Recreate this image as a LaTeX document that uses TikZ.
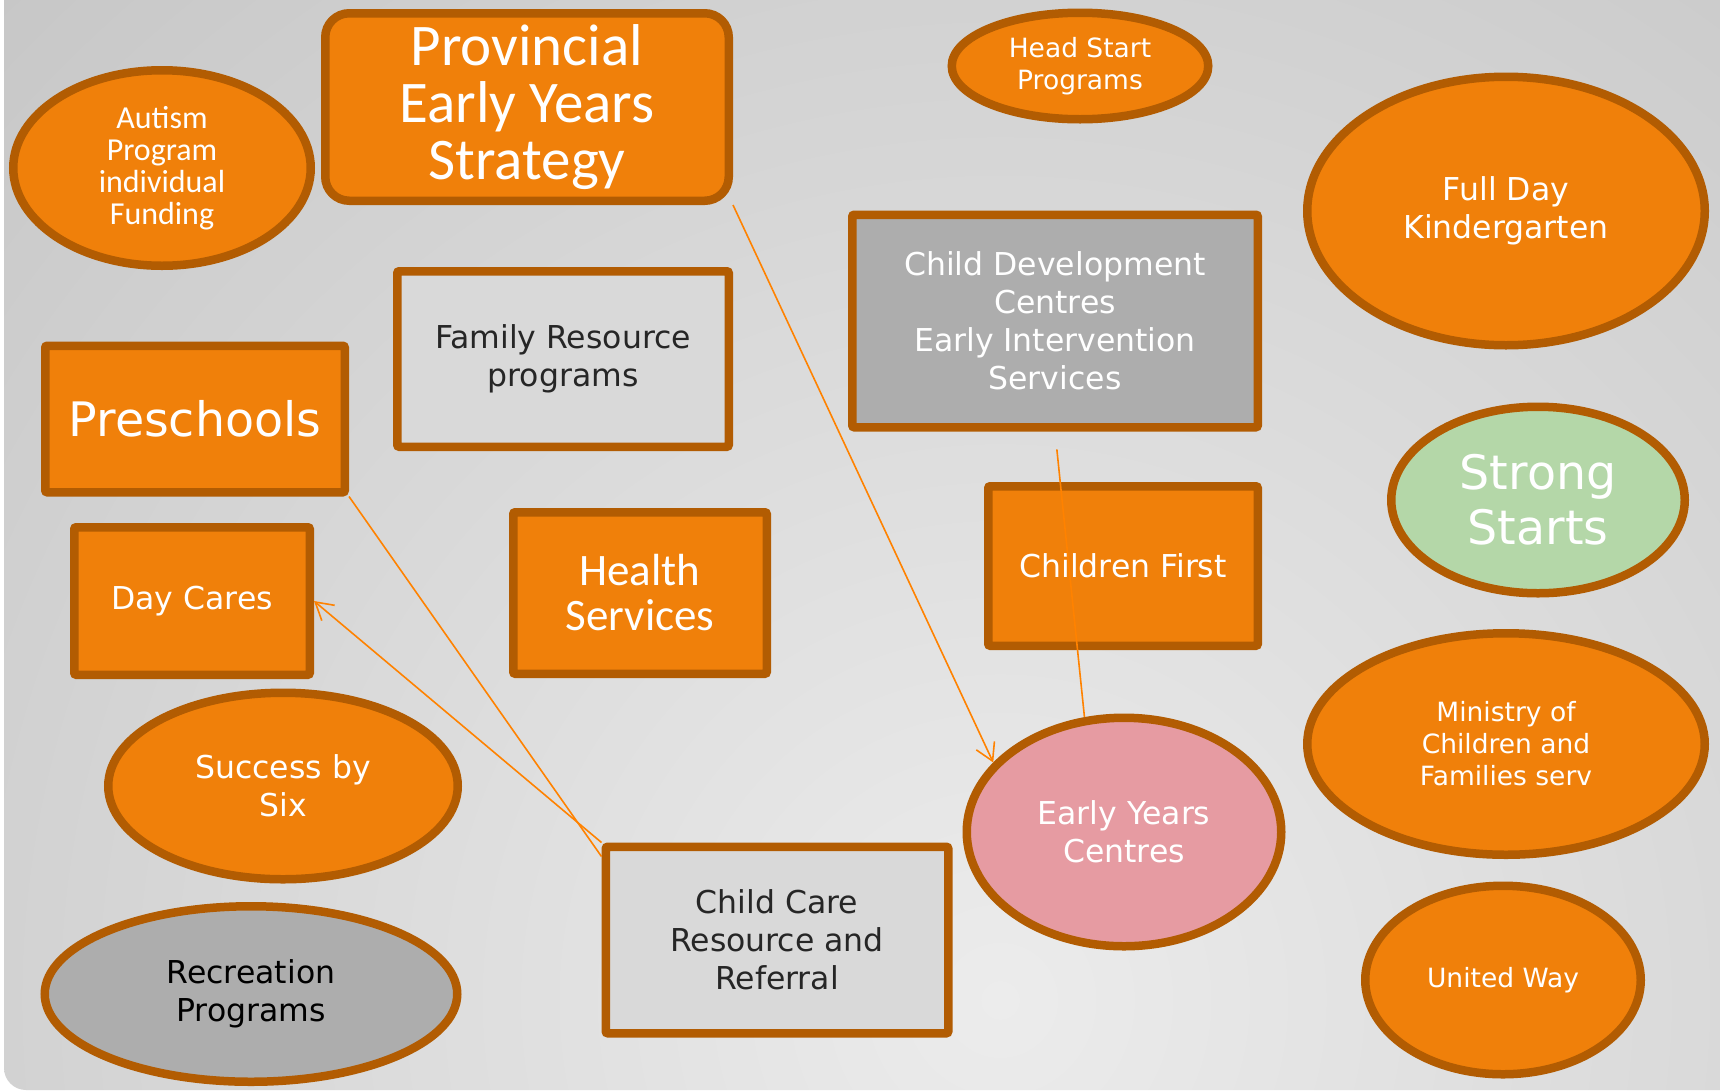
\documentclass[tikz,border=0pt]{standalone}
\usepackage{fontspec}
\setmainfont{DejaVu Sans}
\newfontfamily\condfont{Carlito}
\usetikzlibrary{shapes.geometric,arrows.meta}
\definecolor{orangefill}{RGB}{240,128,10}
\definecolor{orangeline}{RGB}{178,92,2}
\definecolor{linkorange}{RGB}{255,130,0}
\definecolor{lightgrey}{RGB}{217,217,217}
\definecolor{midgrey}{RGB}{173,173,173}
\definecolor{pinkfill}{RGB}{230,155,162}
\definecolor{greenfill}{RGB}{180,215,168}
\definecolor{darktext}{RGB}{38,38,38}
\definecolor{bglight}{RGB}{236,236,236}
\definecolor{bgdark}{RGB}{163,163,163}

\begin{document}
\begin{tikzpicture}[x=1pt,y=-1pt]
\tikzstyle{box}=[rectangle, draw=orangeline, line width=8.5pt, fill=orangefill, text=white, align=center, inner sep=0pt, rounded corners=2pt]
\tikzstyle{oval}=[ellipse, draw=orangeline, line width=8.5pt, fill=orangefill, text=white, align=center, inner sep=0pt]
\tikzstyle{greybox}=[box, fill=lightgrey, text=darktext]
\tikzstyle{midtext}=[font=\fontsize{31.5}{38}\selectfont]
\tikzstyle{smalltext}=[font=\fontsize{26.5}{32}\selectfont]
\tikzstyle{bigtext}=[font=\fontsize{47.5}{55}\selectfont]
\tikzstyle{connect}=[draw=linkorange, line width=1.6pt]
\tikzstyle{connectarrow}=[connect, -{Straight Barb[length=17pt,width=20pt]}]
	\useasboundingbox (0,0) rectangle (1720,1090);
	% background
	\fill[white] (0,0) rectangle (1720,1090);
	\begin{scope}
	\clip[rounded corners=22pt] (4,-60) rectangle (1780,1090);
	\shade[inner color=bglight, outer color=bgdark] (1000,1000) circle (2800pt);
	\end{scope}
	% left column
	\node[oval, minimum width=297.5, minimum height=195.5, font=\condfont\fontsize{32}{32}\selectfont] (auf) at (162,168) {Autism\\Program\\individual\\Funding};
	\node[box, bigtext, minimum width=299.5, minimum height=146.5] (pre) at (195,419) {Preschools};
	\node[box, midtext, minimum width=235.5, minimum height=147.5] (dcs) at (192,601) {Day Cares};
	\node[oval, midtext, minimum width=349.5, minimum height=186.5] (sbs) at (283,786) {Success by\\Six};
	\node[oval, midtext, fill=midgrey, text=black, minimum width=412.5, minimum height=175.5] (rec) at (251,994) {Recreation\\Programs};
	% middle
	\node[box, rounded corners=24pt, minimum width=403.5, minimum height=187.5, font=\condfont\fontsize{59}{57}\selectfont] (pey) at (527,107) {Provincial\\Early Years\\Strategy};
	\node[greybox, midtext, minimum width=331.5, minimum height=175.5] (frp) at (563,359) {Family Resource\\programs};
	\node[box, minimum width=253.5, minimum height=161.5, font=\condfont\fontsize{45}{45}\selectfont] (hse) at (640,593) {Health\\Services};
	\node[greybox, midtext, minimum width=342.5, minimum height=186.5] (ccr) at (777,940) {Child Care\\Resource and\\Referral};
	\node[oval, smalltext, minimum width=256.5, minimum height=106.5] (hsp) at (1080,66) {Head Start\\Programs};
	\node[box, midtext, fill=midgrey, minimum width=405.5, minimum height=212.5] (cdc) at (1055,321) {Child Development\\Centres\\Early Intervention\\Services};
	\node[box, midtext, minimum width=269.5, minimum height=159.5] (chf) at (1123,566) {Children First};
	\node[oval, midtext, fill=pinkfill, minimum width=314.5, minimum height=228.5] (eyc) at (1124,832) {Early Years\\Centres};
	% right column
	\node[oval, midtext, minimum width=397.5, minimum height=268.5] (fdk) at (1506,211) {Full Day\\Kindergarten};
	\node[oval, bigtext, fill=greenfill, minimum width=293.5, minimum height=186.5] (sst) at (1538,500) {Strong\\Starts};
	\node[oval, smalltext, minimum width=397.5, minimum height=221.5] (mcf) at (1506,744) {Ministry of\\Children and\\Families serv};
	\node[oval, smalltext, minimum width=275.5, minimum height=188.5] (unw) at (1503,980) {United Way};
	% links
	\path (pey.south east) edge [connectarrow] (eyc.152);
	\path (pre.south east) edge [connect] ([yshift=-14pt]ccr.north west);
	\path (ccr.north west) edge [connectarrow] (dcs.east);
	\path (cdc.south) edge [connect, shorten <=18pt] (eyc.109);
\end{tikzpicture}
\end{document}
